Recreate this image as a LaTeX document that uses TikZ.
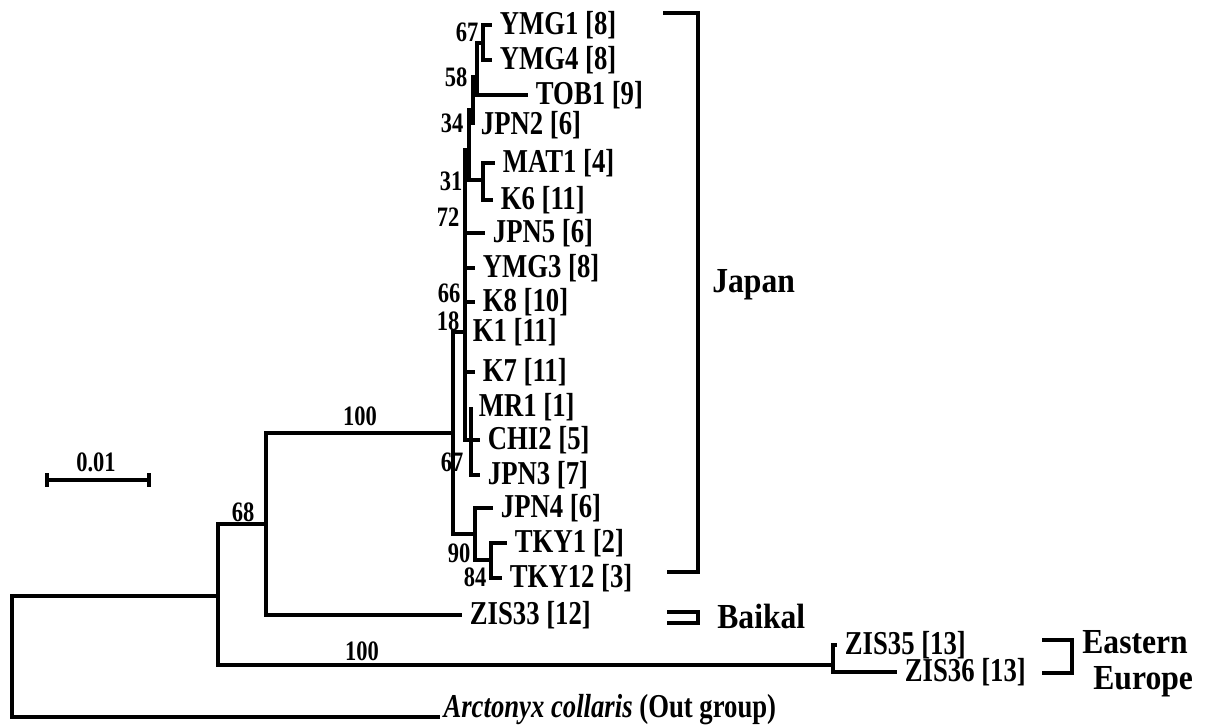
\documentclass[tikz,border=0pt]{standalone}
\usepackage{fontspec}
\setmainfont{Liberation Serif}
\newfontfamily\treefont[FakeStretch=0.8]{Liberation Serif}
\newfontfamily\regionfont[FakeStretch=0.9]{Liberation Serif}
\usetikzlibrary{positioning}
\tikzstyle{branch} = [line width=2.5pt, line join=miter, black]
\tikzstyle{tip} = [anchor=west, inner sep=0pt, outer xsep=4.5pt, outer ysep=0pt, font=\treefont\bfseries\fontsize{19pt}{19pt}\selectfont]
\tikzstyle{boot} = [inner sep=0pt, font=\treefont\bfseries\fontsize{16pt}{16pt}\selectfont]
\tikzstyle{region} = [anchor=base west, inner sep=0pt, font=\regionfont\bfseries\fontsize{20pt}{20pt}\selectfont]
\tikzstyle{bracket} = [line width=2.5pt, line join=miter]

\begin{document}
\begin{tikzpicture}[x=0.02cm, y=-0.02cm]
\useasboundingbox (0,0) rectangle (1213,727);

% ===== INTERNAL NODES =====
\coordinate (root) at (12, 657);
\coordinate (nA) at (218, 596);
\coordinate (n68) at (266, 524);
\coordinate (nEE) at (833, 665);
\coordinate (nJP) at (453, 433);
\coordinate (nPoly) at (465, 332);
\coordinate (n72) at (469, 150);
\coordinate (n34) at (473, 110);
\coordinate (n58) at (477, 77);
\coordinate (n67a) at (483, 43);
\coordinate (n31) at (483, 180);
\coordinate (n67b) at (471, 440);
\coordinate (n90) at (475, 534);
\coordinate (n84) at (491, 560);

% ===== TIPS =====
\node (ymg1) [tip] at (492, 25) {YMG1 [8]};
\node (ymg4) [tip] at (492, 60) {YMG4 [8]};
\node (tob1) [tip] at (528, 95) {TOB1 [9]};
\node (jpn2) [tip] at (473, 125) {JPN2 [6]};
\node (mat1) [tip] at (495, 163) {MAT1 [4]};
\node (k6) [tip] at (493, 200) {K6 [11]};
\node (jpn5) [tip] at (485, 233) {JPN5 [6]};
\node (ymg3) [tip] at (475, 268) {YMG3 [8]};
\node (k8) [tip] at (475, 302) {K8 [10]};
\node (k1) [tip] at (465, 332) {K1 [11]};
\node (k7) [tip] at (475, 372) {K7 [11]};
\node (mr1) [tip] at (471, 407) {MR1 [1]};
\node (chi2) [tip] at (480, 440) {CHI2 [5]};
\node (jpn3) [tip] at (480, 475) {JPN3 [7]};
\node (jpn4) [tip] at (493, 508) {JPN4 [6]};
\node (tky1) [tip] at (507, 543) {TKY1 [2]};
\node (tky12) [tip] at (502, 578) {TKY12 [3]};
\node (zis33) [tip] at (462, 615) {ZIS33 [12]};
\node (zis35) [tip] at (837, 645) {ZIS35 [13]};
\node (zis36) [tip] at (897, 672) {ZIS36 [13]};
\node (outgroup) [tip, anchor=base west, outer xsep=2pt] at (440, 717) {\textit{Arctonyx collaris} (Out group)};

% ===== BOOTSTRAP VALUES =====
\node (b67a) [boot] at (467, 32) {67};
\node (b58) [boot] at (456, 77) {58};
\node (b34) [boot] at (452, 123) {34};
\node (b31) [boot] at (451, 181) {31};
\node (b72) [boot] at (448, 217) {72};
\node (b66) [boot] at (449, 293) {66};
\node (b18) [boot] at (448, 321) {18};
\node (b67b) [boot] at (452, 462) {67};
\node (b90) [boot] at (459, 553) {90};
\node (b84) [boot] at (475, 577) {84};
\node (b100a) [boot] at (360, 416) {100};
\node (b68) [boot] at (243, 512) {68};
\node (b100b) [boot] at (362, 651) {100};

% ===== SCALE BAR =====
\coordinate (barL) at (47, 480);
\coordinate (barR) at (149, 480);
\node (barlabel) [boot] at (96, 462) {0.01};
\draw [branch] (barL) -- (barR);
\draw [branch] (barL) ++(0,-7) -- ++(0,14);
\draw [branch] (barR) ++(0,-7) -- ++(0,14);

% ===== BRANCHES =====
% deep splits
\draw [branch] (root) |- (nA);
\draw [branch] (root) |- (outgroup.base west);
\draw [branch] (nA) |- (n68);
\draw [branch] (nA) |- (nEE);
\draw [branch] (n68) |- (nJP);
\draw [branch] (n68) |- (zis33);
\draw [branch] (nEE) |- (zis35);
\draw [branch] (nEE) |- (zis36);

% Japan clade
\draw [branch] (nJP) |- (nPoly);
\draw [branch] (nJP) |- (n90);
\draw [branch] (nPoly) |- (n72);
\draw [branch] (nPoly) |- (jpn5);
\draw [branch] (nPoly) |- (ymg3);
\draw [branch] (nPoly) |- (k8);
\draw [branch] (nPoly) |- (k1);
\draw [branch] (nPoly) |- (k7);
\draw [branch] (nPoly) |- (n67b);
\draw [branch] (n72) |- (n34);
\draw [branch] (n72) |- (n31);
\draw [branch] (n34) |- (n58);
\draw [branch] (n34) |- (jpn2);
\draw [branch] (n58) |- (n67a);
\draw [branch] (n58) |- (tob1);
\draw [branch] (n67a) |- (ymg1);
\draw [branch] (n67a) |- (ymg4);
\draw [branch] (n31) |- (mat1);
\draw [branch] (n31) |- (k6);
\draw [branch] (n67b) |- (mr1);
\draw [branch] (n67b) |- (chi2);
\draw [branch] (n67b) |- (jpn3);
\draw [branch] (n90) |- (jpn4);
\draw [branch] (n90) |- (n84);
\draw [branch] (n84) |- (tky1);
\draw [branch] (n84) |- (tky12);

% ===== REGIONS =====
\draw [bracket] (663, 13) -| (698, 572) -- (667, 572);
\node (japan) [region] at (712, 292) {Japan};
\draw [bracket] (667, 612) -| (698, 623) -- (667, 623);
\node (baikal) [region] at (717, 628) {Baikal};
\draw [bracket] (1042, 640) -| (1072, 673) -- (1042, 673);
\node (eastern) [region] at (1082, 653) {Eastern};
\node (europe) [region] at (1093, 689) {Europe};

\end{tikzpicture}
\end{document}
